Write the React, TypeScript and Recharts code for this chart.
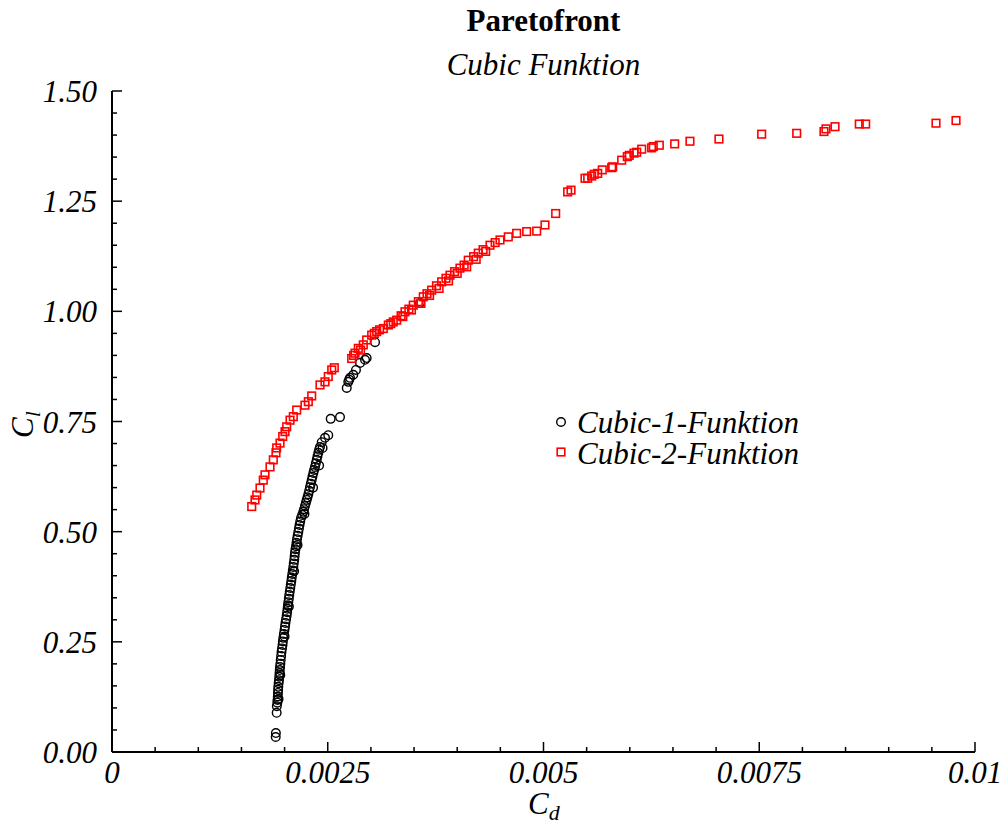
import { ScatterChart, Scatter, XAxis, YAxis } from 'recharts';

const FONT = '"Liberation Serif", "Times New Roman", serif';

// tick labels
const X_MAJOR = [0, 0.0025, 0.005, 0.0075, 0.01];
const X_LABELS = ['0', '0.0025', '0.005', '0.0075', '0.01'];
const Y_MAJOR = [0, 0.25, 0.5, 0.75, 1.0, 1.25, 1.5];
const Y_LABELS = ['0.00', '0.25', '0.50', '0.75', '1.00', '1.25', '1.50'];

// Cubic-1-Funktion (black circles)
const CUBIC1_CD = [
  0.001897, 0.001899, 0.001908, 0.00191, 0.001916, 0.001918, 0.00193, 0.001921, 0.001923, 0.001925,
  0.001927, 0.001931, 0.001935, 0.001938, 0.001941, 0.00195, 0.001944, 0.001947, 0.001951, 0.001955,
  0.00196, 0.001964, 0.00197, 0.001976, 0.00198, 0.001985, 0.002, 0.001992, 0.001999, 0.002005,
  0.00201, 0.002017, 0.002024, 0.002029, 0.002034, 0.00205, 0.002039, 0.002043, 0.002049, 0.002054,
  0.00206, 0.002066, 0.002072, 0.002078, 0.002083, 0.002089, 0.002095, 0.00211, 0.002101, 0.002106,
  0.002112, 0.002116, 0.00212, 0.002126, 0.00215, 0.002132, 0.002138, 0.002144, 0.002151, 0.002159,
  0.002166, 0.002173, 0.002181, 0.00219, 0.00223, 0.002203, 0.002217, 0.002226, 0.002236, 0.002246,
  0.002256, 0.002265, 0.002275, 0.002285, 0.00233, 0.002294, 0.002304, 0.002314, 0.002323, 0.002333,
  0.002342, 0.0024, 0.002352, 0.002362, 0.002372, 0.002381, 0.002391, 0.00244, 0.0024, 0.00241,
  0.00243, 0.002468, 0.002506, 0.002534, 0.002642, 0.00272, 0.002738, 0.002748, 0.002758, 0.002796,
  0.002827, 0.002874, 0.002932, 0.002951, 0.003048, 0.003569,
];
const CUBIC1_CL = [
  0.034, 0.043, 0.089, 0.104, 0.112, 0.118, 0.12, 0.126, 0.134, 0.141,
  0.148, 0.156, 0.163, 0.171, 0.179, 0.175, 0.186, 0.193, 0.2, 0.209,
  0.218, 0.227, 0.235, 0.243, 0.251, 0.259, 0.262, 0.268, 0.277, 0.285,
  0.293, 0.301, 0.309, 0.317, 0.325, 0.33, 0.333, 0.34, 0.348, 0.356,
  0.364, 0.372, 0.38, 0.388, 0.396, 0.404, 0.412, 0.41, 0.42, 0.428,
  0.436, 0.444, 0.452, 0.46, 0.47, 0.467, 0.475, 0.483, 0.491, 0.499,
  0.507, 0.515, 0.523, 0.531, 0.54, 0.538, 0.545, 0.551, 0.558, 0.565,
  0.572, 0.578, 0.585, 0.593, 0.6, 0.601, 0.609, 0.617, 0.625, 0.633,
  0.64, 0.65, 0.647, 0.655, 0.663, 0.671, 0.679, 0.69, 0.686, 0.692,
  0.703, 0.713, 0.719, 0.756, 0.76, 0.826, 0.84, 0.845, 0.849, 0.856,
  0.867, 0.883, 0.89, 0.894, 0.93, 1.019,
];

// Cubic-2-Funktion (red squares)
const CUBIC2_CD = [
  0.001619, 0.001657, 0.001677, 0.001715, 0.001753, 0.001773, 0.001831, 0.001869, 0.0019, 0.001908,
  0.001947, 0.001978, 0.002005, 0.002024, 0.002063, 0.002101, 0.00214, 0.002236, 0.002275, 0.002314,
  0.00241, 0.002468, 0.002506, 0.002546, 0.002576, 0.002777, 0.0028, 0.002816, 0.002854, 0.00288,
  0.002912, 0.002951, 0.003009, 0.00304, 0.003067, 0.0031, 0.003144, 0.003202, 0.00323, 0.003259,
  0.003299, 0.00335, 0.003395, 0.00344, 0.003491, 0.00355, 0.003607, 0.00365, 0.003704, 0.00376,
  0.00382, 0.00387, 0.003916, 0.00397, 0.004032, 0.00408, 0.004128, 0.00419, 0.004244, 0.0043,
  0.00438, 0.00444, 0.004496, 0.004592, 0.004689, 0.004805, 0.004921, 0.005017, 0.005141, 0.00528,
  0.005319, 0.005481, 0.005512, 0.005558, 0.005588, 0.005628, 0.005681, 0.00579, 0.005802, 0.005906,
  0.005971, 0.005994, 0.006048, 0.00608, 0.006138, 0.006253, 0.006272, 0.006342, 0.00652, 0.006697,
  0.007033, 0.007528, 0.007934, 0.00825, 0.008273, 0.008378, 0.008659, 0.008733, 0.009548, 0.00978,
  0.00337, 0.00347, 0.00358, 0.00368, 0.00379, 0.0039, 0.004, 0.00411, 0.00422, 0.00433,
];
const CUBIC2_CL = [
  0.557, 0.572, 0.583, 0.599, 0.617, 0.629, 0.647, 0.663, 0.679, 0.69,
  0.701, 0.716, 0.727, 0.738, 0.753, 0.761, 0.776, 0.787, 0.795, 0.808,
  0.833, 0.84, 0.852, 0.867, 0.872, 0.893, 0.9, 0.905, 0.916, 0.912,
  0.924, 0.935, 0.946, 0.95, 0.954, 0.958, 0.961, 0.969, 0.972, 0.976,
  0.98, 0.99, 0.999, 1.005, 1.014, 1.022, 1.033, 1.04, 1.048, 1.058,
  1.067, 1.075, 1.082, 1.09, 1.098, 1.105, 1.116, 1.124, 1.132, 1.14,
  1.15, 1.156, 1.162, 1.169, 1.177, 1.181, 1.182, 1.196, 1.222, 1.271,
  1.275, 1.302, 1.302, 1.307, 1.311, 1.313, 1.321, 1.326, 1.328, 1.343,
  1.351, 1.354, 1.359, 1.361, 1.368, 1.371, 1.374, 1.377, 1.38, 1.386,
  1.391, 1.402, 1.404, 1.408, 1.414, 1.419, 1.425, 1.425, 1.427, 1.433,
  0.988, 1.003, 1.018, 1.036, 1.052, 1.069, 1.086, 1.101, 1.118, 1.136,
];

const cubic1 = CUBIC1_CD.map((cd, i) => ({ cd, cl: CUBIC1_CL[i] }));
const cubic2 = CUBIC2_CD.map((cd, i) => ({ cd, cl: CUBIC2_CL[i] }));

const xTicks = Array.from({ length: 21 }, (_, i) => +(i * 0.0005).toFixed(4));
const yTicks = Array.from({ length: 31 }, (_, i) => +(i * 0.05).toFixed(2));

const majorIndex = (majors: number[], v: number) => majors.findIndex((m) => Math.abs(m - v) < 1e-9);

// ticks point inward on all four sides, labels only on bottom/left
function makeTick(side: string, majors: number[], labels: string[] | null) {
  return (props: any) => {
    const { x, y, payload } = props;
    const idx = majorIndex(majors, payload.value);
    const len = idx >= 0 ? 10 : 5;
    let x2 = x;
    let y2 = y;
    if (side === 'bottom') y2 = y - len;
    if (side === 'top') y2 = y + len;
    if (side === 'left') x2 = x + len;
    if (side === 'right') x2 = x - len;
    let label = null;
    if (labels && idx >= 0) {
      label =
        side === 'bottom' ? (
          <text x={x} y={y + 31} textAnchor="middle" fontSize={31} fontStyle="italic" fontFamily={FONT} fill="#000">
            {labels[idx]}
          </text>
        ) : (
          <text x={x - 15} y={y + 11} textAnchor="end" fontSize={31} fontStyle="italic" fontFamily={FONT} fill="#000">
            {labels[idx]}
          </text>
        );
    }
    return (
      <g>
        <line x1={x} y1={y} x2={x2} y2={y2} stroke="#000" strokeWidth={1.5} />
        {label}
      </g>
    );
  };
}

const CircleMark = (p: any) => <circle cx={p.cx} cy={p.cy} r={4.3} fill="none" stroke="#000" strokeWidth={1.4} />;
const SquareMark = (p: any) => (
  <rect x={p.cx - 3.8} y={p.cy - 3.8} width={7.6} height={7.6} fill="none" stroke="#ff0000" strokeWidth={1.6} />
);

const axisLine = { stroke: '#000', strokeWidth: 2 };

export default function App() {
  return (
    <div style={{ position: 'absolute', left: 0, top: 0, width: 1004, height: 824, background: '#fff' }}>
      <ScatterChart width={1004} height={824} margin={{ top: 91, right: 29, bottom: 0, left: 0 }}>
        <XAxis
          type="number"
          dataKey="cd"
          domain={[0, 0.01]}
          ticks={xTicks}
          interval={0}
          height={72}
          axisLine={axisLine}
          tickLine={false}
          tickSize={0}
          tickMargin={0}
          tick={makeTick('bottom', X_MAJOR, X_LABELS)}
        />
        <XAxis
          xAxisId="top"
          orientation="top"
          type="number"
          dataKey="cd"
          domain={[0, 0.01]}
          ticks={xTicks}
          interval={0}
          height={0}
          axisLine={axisLine}
          tickLine={false}
          tickSize={0}
          tickMargin={0}
          tick={makeTick('top', X_MAJOR, null)}
        />
        <YAxis
          type="number"
          dataKey="cl"
          domain={[0, 1.5]}
          ticks={yTicks}
          interval={0}
          width={112}
          axisLine={axisLine}
          tickLine={false}
          tickSize={0}
          tickMargin={0}
          tick={makeTick('left', Y_MAJOR, Y_LABELS)}
        />
        <YAxis
          yAxisId="right"
          orientation="right"
          type="number"
          dataKey="cl"
          domain={[0, 1.5]}
          ticks={yTicks}
          interval={0}
          width={0}
          axisLine={axisLine}
          tickLine={false}
          tickSize={0}
          tickMargin={0}
          tick={makeTick('right', Y_MAJOR, null)}
        />
        <Scatter name="Cubic-1-Funktion" data={cubic1} shape={CircleMark} isAnimationActive={false} />
        <Scatter name="Cubic-2-Funktion" data={cubic2} shape={SquareMark} isAnimationActive={false} />
      </ScatterChart>
      <svg
        width={1004}
        height={824}
        style={{ position: 'absolute', left: 0, top: 0, pointerEvents: 'none' }}
        fontFamily={FONT}
      >
        <text x={543.5} y={31} textAnchor="middle" fontSize={31} fontWeight="bold" fill="#000">
          Paretofront
        </text>
        <text x={543.5} y={75} textAnchor="middle" fontSize={31} fontStyle="italic" fill="#000">
          Cubic Funktion
        </text>
        <text x={528} y={814} fontSize={31} fontStyle="italic" fill="#000">
          C<tspan fontSize={22} dy={6}>d</tspan>
        </text>
        <text transform="translate(33, 438) rotate(-90)" fontSize={31} fontStyle="italic" fill="#000">
          C<tspan fontSize={22} dy={7}>l</tspan>
        </text>
        <circle cx={561} cy={422} r={4.3} fill="none" stroke="#000" strokeWidth={1.4} />
        <text x={577} y={433} fontSize={31} fontStyle="italic" fill="#000">
          Cubic-1-Funktion
        </text>
        <rect x={557.2} y={448.2} width={7.6} height={7.6} fill="none" stroke="#ff0000" strokeWidth={1.6} />
        <text x={577} y={464} fontSize={31} fontStyle="italic" fill="#000">
          Cubic-2-Funktion
        </text>
      </svg>
    </div>
  );
}
